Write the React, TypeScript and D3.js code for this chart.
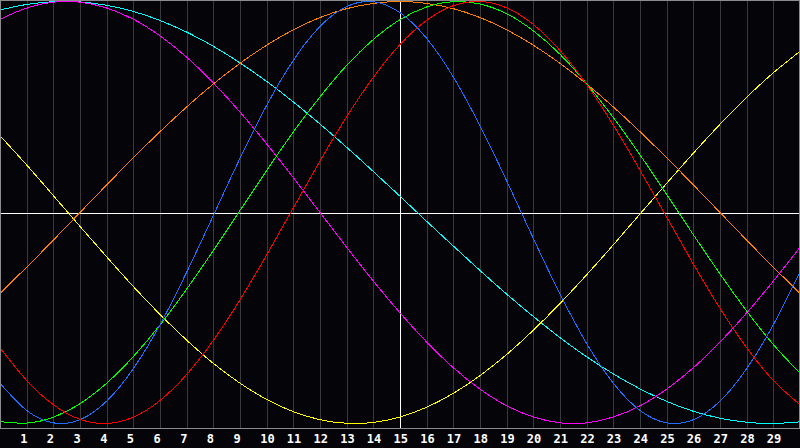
import React from "react";
import * as d3 from "d3";

const days: number[] = d3.range(0, 31);
const tickLabels: string[] = d3.range(1, 30).map(String);

const physical = [-0.809,-0.938,-0.997,-0.982,-0.894,-0.740,-0.532,-0.283,-0.014,0.257,0.508,0.721,0.882,0.976,0.999,0.947,0.825,0.642,0.411,0.150,-0.123,-0.386,-0.621,-0.809,-0.938,-0.997,-0.982,-0.894,-0.740,-0.532,-0.283];
const emotional = [-0.641,-0.796,-0.911,-0.980,-1.000,-0.970,-0.891,-0.768,-0.606,-0.414,-0.201,0.022,0.244,0.454,0.641,0.796,0.911,0.980,1.000,0.970,0.891,0.768,0.606,0.414,0.201,-0.022,-0.244,-0.454,-0.641,-0.796,-0.911];
const intellectual = [-0.991,-0.998,-0.970,-0.906,-0.809,-0.683,-0.533,-0.363,-0.180,0.010,0.199,0.382,0.548,0.697,0.820,0.914,0.974,0.999,0.988,0.942,0.861,0.750,0.610,0.450,0.273,0.086,-0.105,-0.291,-0.467,-0.626,-0.762];
const intuition = [0.916,0.969,0.997,0.997,0.969,0.916,0.837,0.736,0.614,0.476,0.325,0.165,0.000,-0.165,-0.325,-0.476,-0.614,-0.736,-0.837,-0.916,-0.969,-0.997,-0.997,-0.969,-0.916,-0.837,-0.736,-0.614,-0.476,-0.325,-0.165];
const aesthetic = [0.364,0.225,0.080,-0.066,-0.210,-0.351,-0.483,-0.605,-0.715,-0.809,-0.886,-0.944,-0.982,-0.999,-0.995,-0.969,-0.923,-0.857,-0.773,-0.673,-0.558,-0.431,-0.295,-0.153,-0.007,0.138,0.281,0.418,0.546,0.662,0.764];
const awareness = [-0.383,-0.259,-0.131,0.000,0.131,0.259,0.383,0.500,0.609,0.707,0.793,0.866,0.924,0.966,0.991,1.000,0.991,0.966,0.924,0.866,0.793,0.707,0.609,0.500,0.383,0.259,0.131,0.000,-0.131,-0.259,-0.383];
const spiritual = [0.960,0.986,0.999,0.998,0.982,0.953,0.910,0.855,0.788,0.709,0.621,0.524,0.419,0.309,0.194,0.077,-0.042,-0.159,-0.275,-0.387,-0.493,-0.593,-0.684,-0.765,-0.836,-0.895,-0.942,-0.975,-0.994,-1.000,-0.992];

const seriesList = [
  { name: "spiritual", values: spiritual, color: "#00ffff" },
  { name: "intuition", values: intuition, color: "#ff00ff" },
  { name: "aesthetic", values: aesthetic, color: "#ffff00" },
  { name: "awareness", values: awareness, color: "#ff8000" },
  { name: "intellectual", values: intellectual, color: "#00ff00" },
  { name: "physical", values: physical, color: "#1e6eff" },
  { name: "emotional", values: emotional, color: "#ff0000" },
];

const W = 800;
const H = 448;
const PLOT_BOTTOM = 428;

export default function App() {
  const x = d3.scaleLinear().domain([0, 30]).range([0, W]);
  const y = d3.scaleLinear().domain([-1, 1]).range([423.5, 1.5]);
  const line = d3
    .line<number>()
    .x((_, i) => x(days[i]))
    .y((v) => y(v))
    .curve(d3.curveNatural);
  const centerY = Math.round(y(0)) + 0.5;

  return (
    <svg
      width={W}
      height={H}
      style={{ position: "absolute", left: 0, top: 0, display: "block" }}
    >
      <rect x={0} y={0} width={W} height={H} fill="#050408" />
      {tickLabels.map((t) => {
        const gx = Math.round(x(+t)) + 0.5;
        return (
          <line
            key={"g" + t}
            x1={gx}
            x2={gx}
            y1={0}
            y2={PLOT_BOTTOM}
            stroke={+t === 15 ? "#ffffff" : "#3a3a3a"}
            strokeWidth={1}
            shapeRendering="crispEdges"
          />
        );
      })}
      <line x1={0} x2={W} y1={centerY} y2={centerY} stroke="#ffffff" strokeWidth={1} shapeRendering="crispEdges" />
      {seriesList.map((s) => (
        <path
          key={s.name}
          d={line(s.values) || ""}
          fill="none"
          stroke={s.color}
          strokeWidth={1}
          shapeRendering="crispEdges"
        />
      ))}
      <rect
        x={0.5}
        y={0.5}
        width={W - 1}
        height={PLOT_BOTTOM}
        fill="none"
        stroke="#8c8c8c"
        strokeWidth={1}
        shapeRendering="crispEdges"
      />
      {tickLabels.map((t) => (
        <text
          key={"t" + t}
          x={x(+t) - 6.5}
          y={443}
          fill="#ffffff"
          fontFamily="'DejaVu Sans Mono', monospace"
          fontWeight="bold"
          fontSize={12}
        >
          {t}
        </text>
      ))}
    </svg>
  );
}
